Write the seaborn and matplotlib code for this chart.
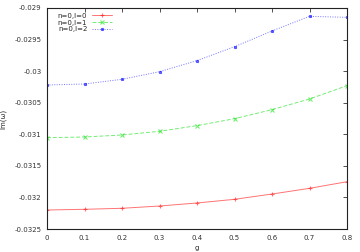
import numpy as np
import pandas as pd
import matplotlib
matplotlib.use("Agg")
import matplotlib.pyplot as plt
import seaborn as sns

g = [0.0, 0.1, 0.2, 0.3, 0.4, 0.5, 0.6, 0.7, 0.8]
im_l0 = [-0.032199, -0.032188, -0.032172, -0.032136, -0.032088, -0.032030, -0.031946, -0.031856, -0.031751]
im_l1 = [-0.031054, -0.031043, -0.031011, -0.030953, -0.030863, -0.030753, -0.030610, -0.030441, -0.030230]
im_l2 = [-0.030219, -0.030204, -0.030129, -0.030009, -0.029833, -0.029613, -0.029364, -0.029132, -0.029148]
labels = ["n=0,l=0", "n=0,l=1", "n=0,l=2"]
xticks = [0, 0.1, 0.2, 0.3, 0.4, 0.5, 0.6, 0.7, 0.8]
xticklabels = ["0", "0.1", "0.2", "0.3", "0.4", "0.5", "0.6", "0.7", "0.8"]
yticks = [-0.0325, -0.032, -0.0315, -0.031, -0.0305, -0.03, -0.0295, -0.029]
yticklabels = ["-0.0325", "-0.032", "-0.0315", "-0.031", "-0.0305", "-0.03", "-0.0295", "-0.029"]

sns.set_style("white")
plt.rcParams['font.family'] = ['DejaVu Sans']

fig = plt.figure(figsize=(3.6, 2.52), dpi=100)
ax = fig.add_axes([47/360, 1 - 229/252, 300/360, 221/252])

series = [im_l0, im_l1, im_l2]
colors = ["#ff0000", "#00dd00", "#0000ff"]
mks = ["+", "x", "s"]
lss = ["-", (0, (4, 2)), (0, (1, 1.5))]
msz = [3, 2.5, 2]

for vals, lab, c, m, ls, ms in zip(series, labels, colors, mks, lss, msz):
    d = pd.DataFrame({"g": g, "im": vals})
    sns.lineplot(data=d, x="g", y="im", color=c, marker=m, linestyle=ls,
                 linewidth=0.7, markersize=ms, alpha=0.55, ax=ax, label=lab,
                 markeredgewidth=0.8, markeredgecolor=c)

ax.set_xlim(0, 0.8)
ax.set_ylim(-0.0325, -0.029)
ax.set_xticks(xticks)
ax.set_xticklabels(xticklabels)
ax.set_yticks(yticks)
ax.set_yticklabels(yticklabels)
ax.tick_params(axis="both", direction="in", length=3, width=0.6, labelsize=5,
               top=True, right=True, pad=4, colors="#333333")
for s in ax.spines.values():
    s.set_linewidth(0.8)
    s.set_color("#222222")
ax.set_xlabel("g", fontsize=5, labelpad=3)
ax.set_ylabel("Im(ω)", fontsize=5, labelpad=6)

leg = ax.legend(loc="upper left", fontsize=5, frameon=False, markerfirst=False,
                handlelength=3.0, handletextpad=0.6, borderaxespad=0.3,
                labelspacing=0.1, bbox_to_anchor=(0.02, 1.0))

fig.savefig("out.png", dpi=100)
